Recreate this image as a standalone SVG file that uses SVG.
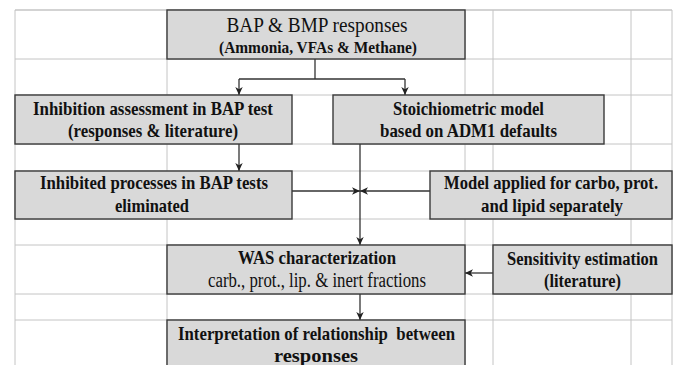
<svg xmlns="http://www.w3.org/2000/svg" width="674" height="365" viewBox="0 0 674 365">
<style>
.grid line{stroke:#c4c4c4;stroke-width:1}
.box{fill:#d9d9d9;stroke:#3a3a3a;stroke-width:1.4}
.t{font-family:'Liberation Serif','DejaVu Serif',serif;fill:#111;text-anchor:middle}
.b{font-weight:bold;font-size:19.5px}
.r{font-size:20px}
.conn path{fill:none;stroke:#333;stroke-width:1.3}
</style>
<defs>
<marker id="ah" markerUnits="userSpaceOnUse" markerWidth="10" markerHeight="9" refX="8" refY="4.5" orient="auto">
<path d="M0,0.8 L8,4.5 L0,8.2 L2.2,4.5 Z" fill="#222"/>
</marker>
</defs>
<rect width="674" height="365" fill="#fff"/>
<g class="grid">
<line x1="15" y1="10" x2="672" y2="10" style="stroke-width:1.6"/>
<line x1="15" y1="59" x2="672" y2="59"/>
<line x1="15" y1="95" x2="672" y2="95"/>
<line x1="15" y1="144" x2="672" y2="144"/>
<line x1="15" y1="171" x2="672" y2="171"/>
<line x1="15" y1="219" x2="672" y2="219"/>
<line x1="15" y1="245" x2="672" y2="245"/>
<line x1="15" y1="294" x2="672" y2="294"/>
<line x1="15" y1="320" x2="672" y2="320"/>
<line x1="15" y1="10" x2="15" y2="365"/>
<line x1="167" y1="10" x2="167" y2="365"/>
<line x1="465" y1="10" x2="465" y2="365"/>
<line x1="493" y1="10" x2="493" y2="365"/>
<line x1="631" y1="10" x2="631" y2="365"/>
<line x1="672" y1="10" x2="672" y2="365"/>
</g>
<g class="conn">
<path d="M315,59 V79"/>
<path d="M239,79 H405"/>
<path d="M239,79 V95" marker-end="url(#ah)"/>
<path d="M405,79 V95" marker-end="url(#ah)"/>
<path d="M239,144 V171" marker-end="url(#ah)"/>
<path d="M360,144 V245" marker-end="url(#ah)"/>
<path d="M292,191 H360" marker-end="url(#ah)"/>
<path d="M430,191 H360" marker-end="url(#ah)"/>
<path d="M493,273 H465" marker-end="url(#ah)"/>
<path d="M360,294 V320" marker-end="url(#ah)"/>
</g>
<g font-family="Liberation Serif, DejaVu Serif, serif">
<g id="n-bap">
<rect class="box" x="167" y="10" width="298" height="49"/>
<text class="t" x="317" y="32" font-size="22" textLength="181" lengthAdjust="spacingAndGlyphs">BAP &amp; BMP responses</text>
<text class="t" x="318" y="53" font-size="16.5" font-weight="bold" textLength="198" lengthAdjust="spacingAndGlyphs">(Ammonia, VFAs &amp; Methane)</text>
</g>
<g id="n-inhib">
<rect class="box" x="15" y="95" width="277" height="49"/>
<text class="t b" x="153" y="114.5" textLength="240" lengthAdjust="spacingAndGlyphs">Inhibition assessment in BAP test</text>
<text class="t b" x="153" y="136.5" textLength="170" lengthAdjust="spacingAndGlyphs">(responses &amp; literature)</text>
</g>
<g id="n-stoich">
<rect class="box" x="333" y="95" width="271" height="49"/>
<text class="t b" x="468.5" y="114.5" textLength="151" lengthAdjust="spacingAndGlyphs">Stoichiometric model</text>
<text class="t b" x="468.5" y="137" textLength="177" lengthAdjust="spacingAndGlyphs">based on ADM1 defaults</text>
</g>
<g id="n-elim">
<rect class="box" x="15" y="171" width="277" height="48"/>
<text class="t b" x="154" y="188.5" textLength="228" lengthAdjust="spacingAndGlyphs">Inhibited processes in BAP tests</text>
<text class="t b" x="152" y="212" textLength="74" lengthAdjust="spacingAndGlyphs">eliminated</text>
</g>
<g id="n-model">
<rect class="box" x="430" y="171" width="242" height="48"/>
<text class="t b" transform="translate(551,188.5) scale(0.85,1)" x="0" y="0" textLength="251.8" lengthAdjust="spacingAndGlyphs">Model applied for carbo, prot.</text>
<text class="t b" x="552" y="212" textLength="142" lengthAdjust="spacingAndGlyphs">and lipid separately</text>
</g>
<g id="n-was">
<rect class="box" x="167" y="245" width="298" height="49"/>
<text class="t b" x="317" y="264" textLength="158" lengthAdjust="spacingAndGlyphs">WAS characterization</text>
<text class="t r" x="317" y="287" textLength="218" lengthAdjust="spacingAndGlyphs">carb., prot., lip. &amp; inert fractions</text>
</g>
<g id="n-sens">
<rect class="box" x="493" y="245" width="179" height="49"/>
<text class="t b" transform="translate(582.5,264.5) scale(0.85,1)" x="0" y="0" textLength="177.6" lengthAdjust="spacingAndGlyphs">Sensitivity estimation</text>
<text class="t b" x="582.5" y="287" textLength="77" lengthAdjust="spacingAndGlyphs">(literature)</text>
</g>
<g id="n-interp">
<rect class="box" x="167" y="320" width="298" height="55"/>
<text class="t b" x="316.5" y="339.5" textLength="277" lengthAdjust="spacingAndGlyphs" xml:space="preserve">Interpretation of relationship  between</text>
<text class="t b" x="316" y="361.5" textLength="84" lengthAdjust="spacingAndGlyphs">responses</text>
</g>
</g>
</svg>
